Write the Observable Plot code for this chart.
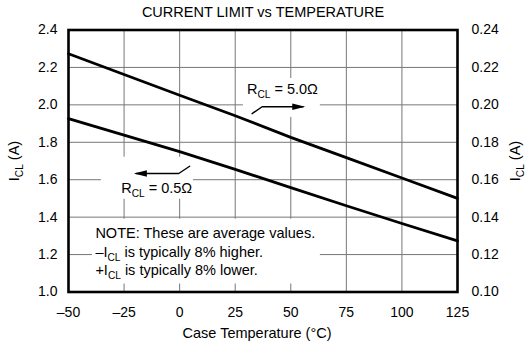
<!DOCTYPE html>
<html>
<head>
<meta charset="utf-8">
<script src="https://cdn.jsdelivr.net/npm/d3@7"></script>
<script src="https://cdn.jsdelivr.net/npm/@observablehq/plot@0.6"></script>
<style>
  html, body { margin: 0; padding: 0; background: #fff; }
</style>
</head>
<body>
<div id="chart"></div>
<script>
// ---- data ----
const temps = [-50, -25, 0, 25, 50, 75, 100, 125];
const icl50 = [2.273, 2.162, 2.051, 1.942, 1.826, 1.718, 1.609, 1.500];   // R_CL = 5.0 Ω
const icl05 = [1.926, 1.838, 1.750, 1.655, 1.558, 1.461, 1.366, 1.273];   // R_CL = 0.5 Ω
const xTicks = [-50, -25, 0, 25, 50, 75, 100, 125];
const yTicks = [1.0, 1.2, 1.4, 1.6, 1.8, 2.0, 2.2, 2.4];
const xGrid = [-25, 0, 25, 50, 75, 100];
const yGrid = [1.2, 1.4, 1.6, 1.8, 2.0, 2.2];

const titleText = "CURRENT LIMIT vs TEMPERATURE";
const xLabel = "Case Temperature (°C)";
const yLabel = "I_{CL} (A)";
const label50 = "R_{CL} = 5.0Ω";
const label05 = "R_{CL} = 0.5Ω";
const noteLines = ["NOTE: These are average values.", "–I_{CL} is typically 8% higher.", "+I_{CL} is typically 8% lower."];

// annotation anchors (data units)
const label50Pos = {t: 30.3, v: 2.06};
const label05Pos = {t: -26.3, v: 1.530};
const notePos = [{t: -37.9, v: 1.2864}, {t: -37.9, v: 1.1893}, {t: -37.9, v: 1.0907}];
const leader50 = [{t: 32.6, v: 1.953}, {t: 37.1, v: 1.990}, {t: 55.5, v: 1.990}];
const tip50 = {t: 56.5, v: 1.990};
const leader05 = [{t: 4.5, v: 1.672}, {t: -0.4, v: 1.633}, {t: -19.6, v: 1.633}];
const tip05 = {t: -20.6, v: 1.633};
const masks = [
  {t1: 28.7, t2: 63.3, v1: 1.933, v2: 2.141},
  {t1: -35.2, t2: 6.2, v1: 1.496, v2: 1.720},
  {t1: -39.2, t2: 63.3, v1: 1.0427, v2: 1.389}
];

const series = temps.flatMap((t, i) => [
  {t, v: icl50[i], s: "5.0"},
  {t, v: icl05[i], s: "0.5"}
]);

const arrowRight = {draw(ctx) { ctx.moveTo(0, 0); ctx.lineTo(-13, -3.2); ctx.lineTo(-13, 3.2); ctx.closePath(); }};
const arrowLeft = {draw(ctx) { ctx.moveTo(0, 0); ctx.lineTo(13, -3.2); ctx.lineTo(13, 3.2); ctx.closePath(); }};

const fmtX = d => d < 0 ? "–" + (-d) : String(d);

const chart = Plot.plot({
  width: 530,
  height: 343,
  marginLeft: 68,
  marginRight: 73,
  marginTop: 29.5,
  marginBottom: 51.5,
  style: {fontFamily: "'Liberation Sans', Arial, Helvetica, sans-serif", fontSize: "14px", background: "#fff", color: "#000"},
  x: {domain: [-50, 125]},
  y: {domain: [1.0, 2.4]},
  marks: [
    Plot.ruleX(xGrid, {stroke: "#777", strokeWidth: 1}),
    Plot.ruleY(yGrid, {stroke: "#777", strokeWidth: 1}),
    Plot.rect(masks, {x1: "t1", x2: "t2", y1: "v1", y2: "v2", fill: "#fff"}),
    Plot.frame({stroke: "#000", strokeWidth: 2.6}),
    Plot.axisX({ticks: xTicks, tickFormat: fmtX, tickSize: 0, tickPadding: 15, label: null}),
    Plot.axisY({anchor: "left", ticks: yTicks, tickFormat: d => d.toFixed(1), tickSize: 0, tickPadding: 11, label: null}),
    Plot.axisY({anchor: "right", ticks: yTicks, tickFormat: d => (d / 10).toFixed(2), tickSize: 0, tickPadding: 14, label: null}),
    Plot.line(series, {x: "t", y: "v", z: "s", stroke: "#000", strokeWidth: 2.8}),
    Plot.line(leader50, {x: "t", y: "v", stroke: "#000", strokeWidth: 1.4}),
    Plot.line(leader05, {x: "t", y: "v", stroke: "#000", strokeWidth: 1.4}),
    Plot.dot([tip50], {x: "t", y: "v", symbol: arrowRight, fill: "#000", stroke: "none"}),
    Plot.dot([tip05], {x: "t", y: "v", symbol: arrowLeft, fill: "#000", stroke: "none"}),
    Plot.text([label50Pos], {x: "t", y: "v", text: () => label50, textAnchor: "start", lineAnchor: "bottom", fontSize: 14.5}),
    Plot.text([label05Pos], {x: "t", y: "v", text: () => label05, textAnchor: "start", lineAnchor: "bottom", fontSize: 14.5}),
    Plot.text(notePos, {x: "t", y: "v", text: (d, i) => noteLines[i], textAnchor: "start", lineAnchor: "bottom", fontSize: 14.5}),
    Plot.text([titleText], {text: d => d, frameAnchor: "top", textAnchor: "middle", lineAnchor: "middle", dy: -17.5, fontSize: 14.5}),
    Plot.text([xLabel], {text: d => d, frameAnchor: "bottom", textAnchor: "middle", lineAnchor: "middle", dy: 41.5, dx: -6, fontSize: 14.5}),
    Plot.text([yLabel], {text: d => d, frameAnchor: "left", textAnchor: "middle", lineAnchor: "middle", rotate: -90, dx: -54, fontSize: 14.5}),
    Plot.text([yLabel], {text: d => d, frameAnchor: "right", textAnchor: "middle", lineAnchor: "middle", rotate: -90, dx: 58, fontSize: 14.5})
  ]
});

// turn "_{..}" markers into real subscript tspans
function applySubscripts(root) {
  const ns = "http://www.w3.org/2000/svg";
  const nodes = [];
  const walker = document.createTreeWalker(root, NodeFilter.SHOW_TEXT);
  while (walker.nextNode()) if (walker.currentNode.nodeValue.includes("_{")) nodes.push(walker.currentNode);
  for (const tn of nodes) {
    const parent = tn.parentNode;
    const parts = tn.nodeValue.split(/_\{([^}]*)\}/);
    const frag = document.createDocumentFragment();
    let shifted = false;
    parts.forEach((p, i) => {
      if (!p) return;
      if (i % 2 === 1) {
        const s = document.createElementNS(ns, "tspan");
        s.setAttribute("font-size", "70%");
        s.setAttribute("dy", "4");
        s.textContent = p;
        frag.appendChild(s);
        shifted = true;
      } else if (shifted) {
        const s = document.createElementNS(ns, "tspan");
        s.setAttribute("dy", "-4");
        s.textContent = p;
        frag.appendChild(s);
        shifted = false;
      } else {
        frag.appendChild(document.createTextNode(p));
      }
    });
    parent.replaceChild(frag, tn);
  }
}
applySubscripts(chart);
document.getElementById("chart").appendChild(chart);
</script>
</body>
</html>
